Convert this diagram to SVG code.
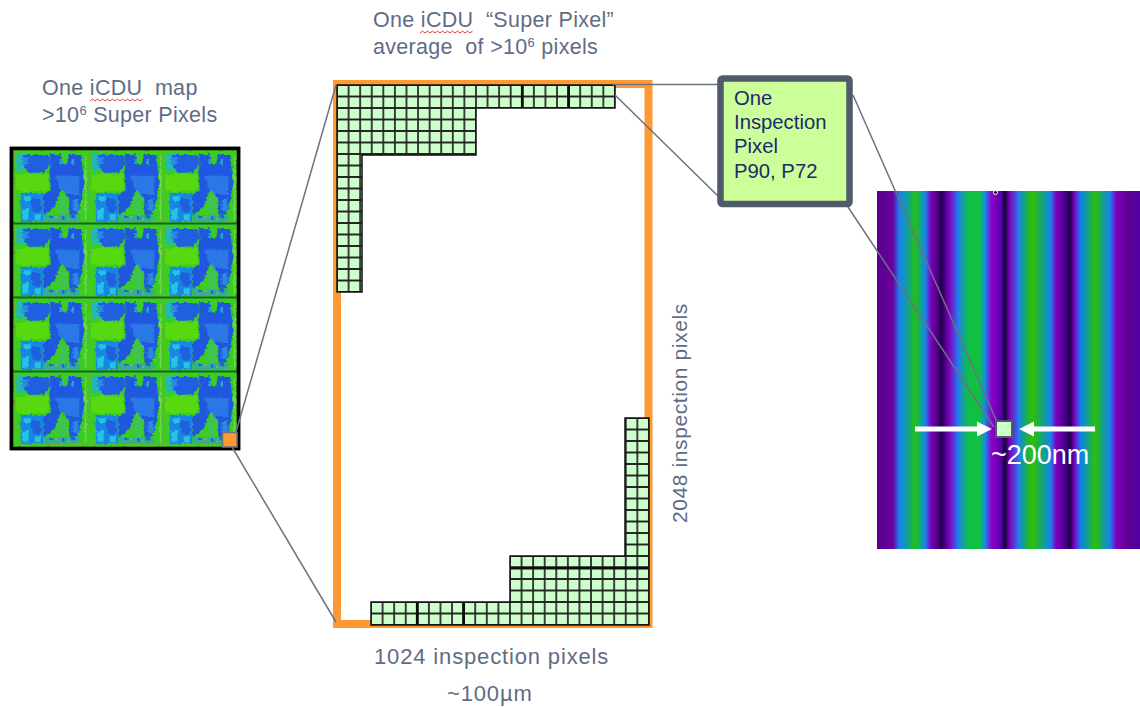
<svg xmlns="http://www.w3.org/2000/svg" width="1140" height="707" viewBox="0 0 1140 707">
<style>
text{font-family:"Liberation Sans",Arial,sans-serif;white-space:pre}
.lbl{font-size:21.500px;fill:#5f6c84;letter-spacing:.3px}
.big{font-size:22px;letter-spacing:.85px}
.call{font-size:20.300px;fill:#1d2a6b}
.lead{fill:none;stroke:#6b7280;stroke-width:1.500}
.thick{stroke:#0c0c0c;stroke-width:2.800;fill:none}
.wave{fill:none;stroke:#e0403a;stroke-width:1}
.sup{font-size:13px}
</style>
<defs>
<pattern id="cellA" patternUnits="userSpaceOnUse" x="337" y="85" width="11.58" height="11.5">
<rect width="11.58" height="11.5" fill="#ccffcc"/>
<path d="M0 0H11.58M0 11.5H11.58M0 0V11.5M11.58 0V11.5" stroke="#222" stroke-width="1.700" fill="none"/>
</pattern>
<pattern id="cellB" patternUnits="userSpaceOnUse" x="371" y="418" width="11.58" height="11.5">
<rect width="11.58" height="11.5" fill="#ccffcc"/>
<path d="M0 0H11.58M0 11.5H11.58M0 0V11.5M11.58 0V11.5" stroke="#222" stroke-width="1.700" fill="none"/>
</pattern>
<linearGradient id="stripes" gradientUnits="userSpaceOnUse" x1="877" y1="0" x2="1140" y2="0">
<stop offset="0" stop-color="#58008f"/>
<stop offset=".06" stop-color="#6a00a0"/>
<stop offset=".085" stop-color="#1a80f0"/>
<stop offset=".115" stop-color="#10a0a0"/>
<stop offset=".145" stop-color="#22c010"/>
<stop offset=".17" stop-color="#10a0a0"/>
<stop offset=".185" stop-color="#1a80f0"/>
<stop offset=".205" stop-color="#8000c0"/>
<stop offset=".235" stop-color="#400070"/>
<stop offset=".245" stop-color="#200050"/>
<stop offset=".275" stop-color="#8000c0"/>
<stop offset=".31" stop-color="#2080f0"/>
<stop offset=".335" stop-color="#10b070"/>
<stop offset=".355" stop-color="#10c040"/>
<stop offset=".39" stop-color="#10c040"/>
<stop offset=".41" stop-color="#1090e0"/>
<stop offset=".435" stop-color="#9000d0"/>
<stop offset=".475" stop-color="#5000a0"/>
<stop offset=".485" stop-color="#100030"/>
<stop offset=".505" stop-color="#8000c0"/>
<stop offset=".54" stop-color="#2080f0"/>
<stop offset=".555" stop-color="#10a090"/>
<stop offset=".59" stop-color="#30c000"/>
<stop offset=".635" stop-color="#10a090"/>
<stop offset=".66" stop-color="#1a80f0"/>
<stop offset=".68" stop-color="#8000c0"/>
<stop offset=".72" stop-color="#400080"/>
<stop offset=".735" stop-color="#200050"/>
<stop offset=".75" stop-color="#8000c0"/>
<stop offset=".775" stop-color="#1080f0"/>
<stop offset=".8" stop-color="#10a090"/>
<stop offset=".83" stop-color="#30c000"/>
<stop offset=".86" stop-color="#10a090"/>
<stop offset=".885" stop-color="#1a80f0"/>
<stop offset=".91" stop-color="#8000c0"/>
<stop offset=".95" stop-color="#600090"/>
<stop offset="1" stop-color="#5000a0"/>
</linearGradient>
<filter id="rough" x="0" y="0" width="100%" height="100%" color-interpolation-filters="sRGB">
<feTurbulence type="fractalNoise" baseFrequency="0.3" numOctaves="2" seed="4" result="n"/>
<feDisplacementMap in="SourceGraphic" in2="n" scale="4.500" xChannelSelector="R" yChannelSelector="G"/>
<feGaussianBlur stdDeviation="0.7"/>
</filter>
<g id="tile" filter="url(#rough)">
<g transform="translate(-1 -1) scale(.3333)">
<rect x="3" y="3" width="225" height="225" fill="#3ccc22"/>
<rect x="14" y="14" width="28" height="50" fill="#24b8b4"/>
<path d="M32 18H112L115 45L95 70L50 72L38 55Z" fill="#2060e0"/>
<path d="M115 16H148L152 48H165L170 18H208L212 60L218 100L208 150L198 195L172 200L172 152L152 120L140 135L128 175L95 198L95 138L116 122L112 70L115 50Z" fill="#1f58de"/>
<path d="M128 80H202V135H160L142 118Z" fill="#2a78e6"/>
<path d="M30 25H50V45H30ZM182 150H200V185H182Z" fill="#2a8ae0"/>
<path d="M142 30H150V44H142ZM178 28H186V48H178Z" fill="#25a8c8"/>
<path d="M12 76H110V126H12Z" fill="#58d80e"/>
<path d="M26 132H94V218H26Z" fill="#1a86e4"/>
<path d="M36 142H56V156H36ZM30 180H50V212H30ZM68 196H86V214H68Z" fill="#22c4e2"/>
<path d="M60 150H88V188H60Z" fill="#1f60dc"/>
<path d="M98 198H202V218H98Z" fill="#2fae98"/>
<path d="M142 140H164V198H142Z" fill="#3fc452"/>
<path d="M112 200h10v10h-10zM150 202h10v10h-10zM178 194h10v14h-10z" fill="#2a60c8"/>
<path d="M130 202h6v6h-6zM165 206h6v6h-6z" fill="#c0b030"/>
<path d="M6 220H224" stroke="#a89a30" stroke-width="3" stroke-dasharray="7 7"/>
<path d="M6 8V216" stroke="#a88a30" stroke-width="3" stroke-dasharray="6 10"/>
<path d="M221 20V215" stroke="#70d850" stroke-width="5"/>
</g>
</g>
</defs>
<rect width="1140" height="707" fill="#fff"/>
<g id="label-map">
<text class="lbl" x="42" y="95">One iCDU  map</text>
<text class="lbl" x="42" y="122">&gt;10<tspan class="sup" dy="-7">6</tspan><tspan dy="7"> Super Pixels</tspan></text>
<path class="wave" d="M90 101l2.500-2 2.500 2 2.500-2 2.500 2 2.500-2 2.500 2 2.500-2 2.500 2 2.500-2 2.500 2 2.500-2 2.500 2 2.500-2 2.500 2 2.500-2 2.500 2 2.500-2 2.500 2 2.500-2 2.500 2 2.500-2"/>
</g>
<g id="label-super">
<text class="lbl" x="373" y="27">One iCDU  “Super Pixel”</text>
<text class="lbl" x="373" y="54">average  of &gt;10<tspan class="sup" dy="-7">6</tspan><tspan dy="7"> pixels</tspan></text>
<path class="wave" d="M420 33l2.500-2 2.500 2 2.500-2 2.500 2 2.500-2 2.500 2 2.500-2 2.500 2 2.500-2 2.500 2 2.500-2 2.500 2 2.500-2 2.500 2 2.500-2 2.500 2 2.500-2 2.500 2 2.500-2 2.500 2 2.500-2"/>
</g>
<g id="stripe-image">
<rect x="877" y="191" width="263" height="358" fill="url(#stripes)"/>
<circle cx="995.500" cy="192.500" r="2" fill="#111" stroke="#fff" stroke-width="1"/>
</g>
<g id="heat-map">
<rect x="11.500" y="148.500" width="227" height="300" fill="#3ccc22" stroke="#000" stroke-width="3.500"/>
<use href="#tile" x="13" y="150"/><use href="#tile" x="88" y="150"/><use href="#tile" x="162" y="150"/>
<use href="#tile" x="13" y="224"/><use href="#tile" x="88" y="224"/><use href="#tile" x="162" y="224"/>
<use href="#tile" x="13" y="298"/><use href="#tile" x="88" y="298"/><use href="#tile" x="162" y="298"/>
<use href="#tile" x="13" y="372"/><use href="#tile" x="88" y="372"/><use href="#tile" x="162" y="372"/>
<path d="M13 223.500H237M13 297.500H237M13 371.500H237" stroke="#0a6a22" stroke-width="2"/>
<rect x="11.500" y="148.500" width="227" height="300" fill="none" stroke="#000" stroke-width="3.500"/>
<rect x="222.500" y="432.500" width="14.500" height="14.500" fill="#ff9933" stroke="#6b7280" stroke-width="1.500"/>
</g>
<g id="super-pixel">
<rect x="337" y="84" width="311.500" height="540" fill="none" stroke="#ff9933" stroke-width="8"/>
<path d="M337 85H615V108H476V155H362V292H337Z" fill="url(#cellA)" stroke="#111" stroke-width="1.500"/>
<path d="M522.300 85V108M568.600 85V108" class="thick"/>
<path d="M371 602H510V556H625V418H649V625H371Z" fill="url(#cellB)" stroke="#111" stroke-width="1.500"/>
<path d="M417.300 602V625M463.600 602V625M510 568H649" class="thick"/>
</g>
<g id="connectors">
<path class="lead" d="M236 432L336 85"/>
<path class="lead" d="M232 447L336 622"/>
<path class="lead" d="M612 84.500H719"/>
<path class="lead" d="M615 95L718 196"/>
<path class="lead" d="M853 95L997 422"/>
<path class="lead" d="M848 207L994 427"/>
</g>
<g id="inspection-pixel">
<rect x="720.500" y="78.500" width="129" height="125.500" rx="2" fill="#ccff99" stroke="#4f5a6b" stroke-width="6.500"/>
<text class="call" x="734" y="105">One</text>
<text class="call" x="734" y="129">Inspection</text>
<text class="call" x="734" y="153">Pixel</text>
<text class="call" x="734" y="178">P90, P72</text>
</g>
<g id="measure">
<path d="M915 426.500H977V421.500L992 429L977 436.500V431.500H915Z" fill="#fff"/>
<path d="M1095 426.500H1034V421.500L1019 429L1034 436.500V431.500H1095Z" fill="#fff"/>
<rect x="996" y="421" width="16" height="16" fill="#ccffcc" stroke="#4f5a6b" stroke-width="2"/>
<text x="991" y="464" font-size="27" fill="#fff">~200nm</text>
</g>
<g id="labels">
<text class="lbl big" x="374" y="664">1024 inspection pixels</text>
<text class="lbl big" x="447" y="701">~100µm</text>
<text class="lbl" transform="translate(687 523) rotate(-90)" style="font-size:21px;letter-spacing:.6px">2048 inspection pixels</text>
</g>
</svg>
